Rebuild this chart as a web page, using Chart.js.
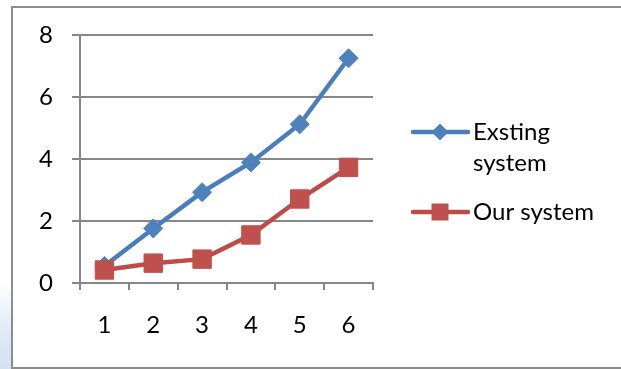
<!DOCTYPE html>
<html>
<head>
<meta charset="utf-8">
<script src="https://cdn.jsdelivr.net/npm/chart.js@4/dist/chart.umd.min.js"></script>
<style>
  html, body { margin: 0; padding: 0; background: #ffffff; }
  body { width: 621px; height: 369px; position: relative; overflow: hidden; }
  #haze { position: absolute; left: 0; top: 280px; width: 12px; height: 89px;
          background: linear-gradient(to bottom, rgba(222,234,246,0) 0%, rgba(222,234,246,1) 60%, rgba(210,226,243,1) 100%); }
  #frame { position: absolute; left: 11px; top: 6px; width: 640px; height: 359px;
           border: 2px solid #8c8c8c; background: #ffffff; }
  #wrap { position: absolute; left: 0; top: 0; width: 621px; height: 369px; }
</style>
</head>
<body>
<div id="haze"></div>
<div id="frame"></div>
<div id="wrap"><canvas id="chart" width="621" height="369"></canvas></div>
<script>
// Categories and series values
const categories = ['1', '2', '3', '4', '5', '6'];
const existingSystem = [0.55, 1.76, 2.93, 3.89, 5.12, 7.25];
const ourSystem = [0.42, 0.64, 0.77, 1.55, 2.71, 3.73];
const seriesNames = ['Exsting\nsystem', 'Our system'];

const FONT = 'Lato, "Noto Sans", sans-serif';
const FONT_SIZE = 24;
const GRID = '#878787';

// Legend drawn beside the plot, one entry per dataset
const sideLegend = {
  id: 'sideLegend',
  afterDraw(chart) {
    const ctx = chart.ctx;
    const x0 = 413, x1 = 468, tx = 473;
    const rows = [132, 212];
    ctx.save();
    chart.data.datasets.forEach((ds, i) => {
      const y = rows[i];
      ctx.strokeStyle = ds.borderColor;
      ctx.lineWidth = ds.borderWidth;
      ctx.lineCap = 'round';
      ctx.beginPath();
      ctx.moveTo(x0, y);
      ctx.lineTo(x1, y);
      ctx.stroke();
      ctx.fillStyle = ds.pointBackgroundColor;
      ctx.beginPath();
      if (ds.pointStyle === 'rectRot') {
        const r = 8.5;
        ctx.moveTo(440, y - r); ctx.lineTo(440 + r, y); ctx.lineTo(440, y + r); ctx.lineTo(440 - r, y);
        ctx.closePath();
      } else {
        ctx.rect(440 - 8.5, y - 8.5, 17, 17);
      }
      ctx.fill();
      ctx.fillStyle = '#000000';
      ctx.font = FONT_SIZE + 'px ' + FONT;
      ctx.textBaseline = 'middle';
      ctx.textAlign = 'left';
      ds.label.split('\n').forEach((line, k) => ctx.fillText(line, tx, y + k * 31));
    });
    ctx.restore();
  }
};

new Chart(document.getElementById('chart'), {
  type: 'line',
  data: {
    labels: categories,
    datasets: [
      {
        label: seriesNames[0],
        data: existingSystem,
        borderColor: '#4a7ebb',
        backgroundColor: '#4f81bd',
        pointBackgroundColor: '#4f81bd',
        pointBorderColor: '#4f81bd',
        borderWidth: 4.5,
        pointStyle: 'rectRot',
        pointRadius: 9.5,
        pointBorderWidth: 1,
        tension: 0,
        order: 1
      },
      {
        label: seriesNames[1],
        data: ourSystem,
        borderColor: '#be4b48',
        backgroundColor: '#c0504d',
        pointBackgroundColor: '#c0504d',
        pointBorderColor: '#c0504d',
        borderWidth: 4.5,
        pointStyle: 'rect',
        pointRadius: 13,
        pointBorderWidth: 1,
        tension: 0,
        order: 0
      }
    ]
  },
  options: {
    responsive: false,
    animation: false,
    events: [],
    layout: { padding: { left: 0, top: 35, right: 248, bottom: 0 } },
    plugins: { legend: { display: false }, tooltip: { enabled: false } },
    scales: {
      x: {
        offset: true,
        afterFit(s) { s.height = 86; },
        grid: { offset: true, drawOnChartArea: false, drawTicks: true, tickLength: 7, color: GRID, lineWidth: 2 },
        border: { display: true, color: GRID, width: 2 },
        ticks: { color: '#000000', font: { family: FONT, size: FONT_SIZE }, padding: 21, maxRotation: 0 }
      },
      y: {
        min: 0,
        max: 8,
        afterFit(s) { s.width = 80; },
        grid: { color: GRID, lineWidth: 2, tickLength: 8, drawTicks: true },
        border: { display: true, color: GRID, width: 2 },
        ticks: { stepSize: 2, color: '#000000', font: { family: FONT, size: FONT_SIZE }, padding: 19 }
      }
    }
  },
  plugins: [sideLegend]
});
</script>
</body>
</html>
